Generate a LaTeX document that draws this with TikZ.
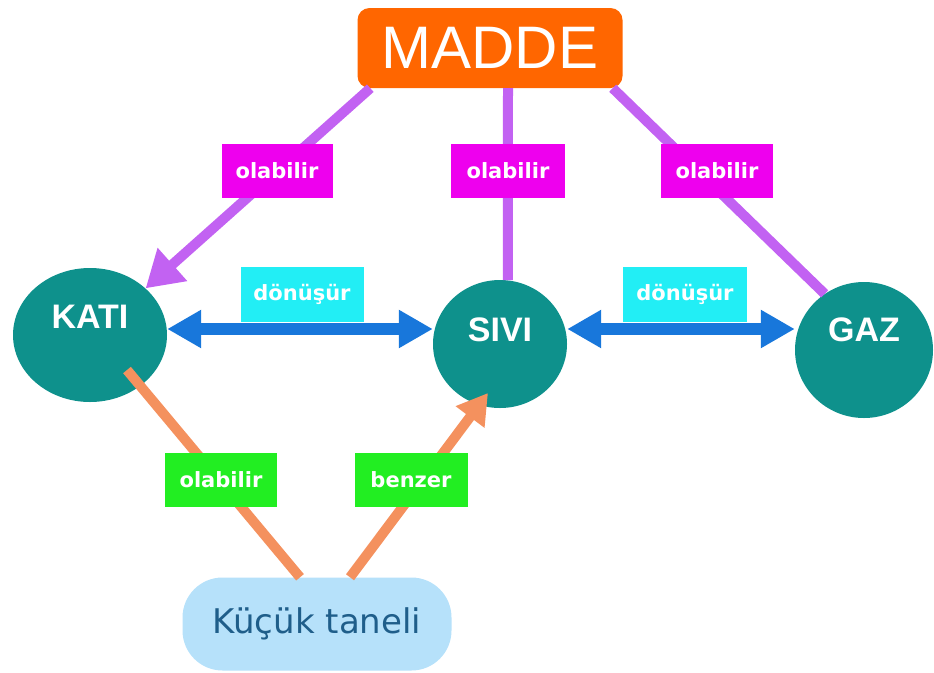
\documentclass[tikz,border=0pt]{standalone}
\usepackage{fontspec}
\setmainfont{Liberation Sans}
\newfontfamily\tagfont{DejaVu Sans}
\newfontfamily\softfont{DejaVu Sans}
\usepackage{tikz}
\usetikzlibrary{positioning}
\usetikzlibrary{shapes.geometric, arrows.meta}

\definecolor{maddeOrange}{HTML}{FF6600}
\definecolor{stateTeal}{HTML}{0E918C}
\definecolor{lilac}{HTML}{C262F2}
\definecolor{tagMagenta}{HTML}{EE00EE}
\definecolor{tagCyan}{HTML}{22EEF5}
\definecolor{tagGreen}{HTML}{22EE22}
\definecolor{flowBlue}{HTML}{1877DB}
\definecolor{peach}{HTML}{F4915E}
\definecolor{paleBlue}{HTML}{B6E1FA}
\definecolor{inkBlue}{HTML}{1F5E8A}

\tikzstyle{state} = [ellipse, fill=stateTeal, text=white, inner sep=0pt, font=\bfseries\fontsize{34}{34}\selectfont]
\tikzstyle{tag} = [rectangle, inner sep=0pt, minimum height=54pt, text=white, font=\tagfont\bfseries\fontsize{21}{21}\selectfont]
\tikzstyle{lilacLine} = [line width=10pt, lilac]
\tikzstyle{lilacArrow} = [line width=10pt, lilac, -{Triangle[length=36pt,width=42pt]}]
\tikzstyle{blueArrow} = [line width=12pt, flowBlue, {Triangle[length=34pt,width=36pt]}-{Triangle[length=34pt,width=36pt]}]
\tikzstyle{peachLine} = [line width=10pt, peach]
\tikzstyle{peachArrow} = [line width=10pt, peach, -{Triangle[length=30pt,width=34pt]}]

\begin{document}
\begin{tikzpicture}[x=1pt,y=-1pt]
	\useasboundingbox (0,0) rectangle (934,672);
	
	%Nodes
	\node [rectangle, rounded corners=12pt, fill=maddeOrange, text=white, minimum width=265pt, minimum height=80pt, font=\fontsize{60}{60}\selectfont] (madde) at (490,48) {MADDE};
	
	\node [state, minimum width=154pt, minimum height=134pt, text depth=36pt] (kati) at (90,335) {KATI};
	\node [state, minimum width=134pt, minimum height=128pt, text depth=28pt] (sivi) at (500,344) {SIVI};
	\node [state, minimum width=138pt, minimum height=136pt, text depth=40pt] (gaz) at (864,350) {GAZ};
	
	\node [rectangle, rounded corners=40pt, fill=paleBlue, text=inkBlue, minimum width=269pt, minimum height=93pt, font=\softfont\fontsize{34}{34}\selectfont] (kucukTaneli) at (317,624) {Küçük taneli};
	
	%Lines
	\draw[lilacArrow] ([xshift=13pt]madde.south west) -- (kati.40);
	\draw[lilacLine] ([xshift=18pt]madde.south) -- (sivi.83);
	\draw[lilacLine] ([xshift=-10pt]madde.south east) -- (gaz.125);
	
	\draw[blueArrow] ([yshift=6pt]kati.east) -- ([yshift=15pt]sivi.west);
	\draw[blueArrow] ([yshift=15pt]sivi.east) -- ([yshift=21pt]gaz.west);
	
	\draw[peachLine] ([xshift=37pt,yshift=-35pt]kati.center) -- ([xshift=-17pt]kucukTaneli.north);
	\draw[peachArrow] ([xshift=33pt]kucukTaneli.north) -- ([xshift=-12pt,yshift=-49pt]sivi.center);
	
	%Tags
	\node [tag, fill=tagMagenta, minimum width=111pt] (tagKati) at (277,171) {olabilir};
	\node [tag, fill=tagMagenta, minimum width=114pt] (tagSivi) at (508,171) {olabilir};
	\node [tag, fill=tagMagenta, minimum width=112pt] (tagGaz) at (717,171) {olabilir};
	
	\node [tag, fill=tagCyan, minimum width=123pt, minimum height=55pt] (tagDonusurLeft) at (302,294) {dönüşür};
	\node [tag, fill=tagCyan, minimum width=124pt, minimum height=55pt] (tagDonusurRight) at (685,294) {dönüşür};
	
	\node [tag, fill=tagGreen, minimum width=112pt] (tagKucuk) at (221,480) {olabilir};
	\node [tag, fill=tagGreen, minimum width=113pt] (tagBenzer) at (411,480) {benzer};
	
\end{tikzpicture}
\end{document}
